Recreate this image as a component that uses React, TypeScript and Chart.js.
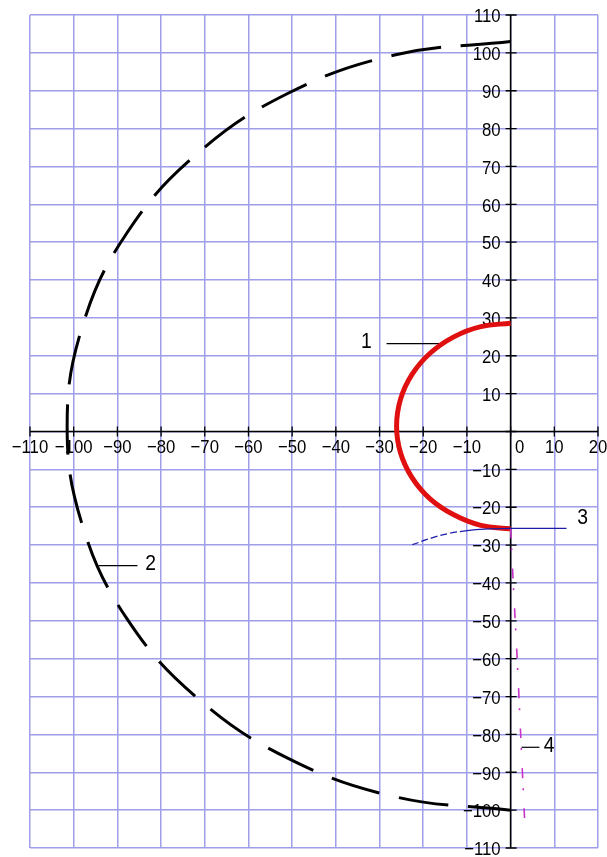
import { useEffect, useRef } from "react";
import { Chart, registerables } from "chart.js";

Chart.register(...registerables);

// Axis ranges and tick values
const xTickValues = [-110, -100, -90, -80, -70, -60, -50, -40, -30, -20, -10, 0, 10, 20];
const yTickValues = [110, 100, 90, 80, 70, 60, 50, 40, 30, 20, 10, 0, -10, -20, -30, -40, -50, -60, -70, -80, -90, -100, -110];

// Curve 1 – small red arc
const curve1 = [
  { x: 0, y: 28.6 }, { x: -6.8, y: 27.7 }, { x: -13.0, y: 25.0 }, { x: -18.5, y: 20.6 },
  { x: -22.6, y: 15.0 }, { x: -25.2, y: 8.5 }, { x: -26.1, y: 1.4 }, { x: -25.2, y: -5.6 },
  { x: -22.6, y: -12.1 }, { x: -18.5, y: -17.7 }, { x: -13.0, y: -22.0 }, { x: -6.8, y: -24.8 },
  { x: 0, y: -25.7 },
];

// Curve 2 – large dashed arc
const curve2 = [
  { x: 0, y: 103 }, { x: -26.3, y: 99.5 }, { x: -50.8, y: 89.4 }, { x: -71.8, y: 73.3 },
  { x: -87.9, y: 52.3 }, { x: -98.0, y: 27.8 }, { x: -101.5, y: 1.5 }, { x: -98.0, y: -24.8 },
  { x: -87.9, y: -49.3 }, { x: -71.8, y: -70.3 }, { x: -50.8, y: -86.4 }, { x: -26.3, y: -96.5 },
  { x: 0, y: -100 },
];

// Curve 3 – thin blue line
const curve3 = [
  { x: 12.8, y: -25.6 }, { x: 6, y: -25.6 }, { x: 0, y: -25.6 }, { x: -6, y: -25.8 },
  { x: -10, y: -26.2 }, { x: -14, y: -26.9 }, { x: -18, y: -28.1 }, { x: -22.5, y: -29.9 },
];

// Curve 4 – magenta dash-dot line
const curve4 = [
  { x: 0, y: -25.6 }, { x: 0.6, y: -40 }, { x: 1.5, y: -60 }, { x: 2.3, y: -80 },
  { x: 3.1, y: -100 }, { x: 3.3, y: -104.5 },
];

// Leader lines for the curve numbers
const leader1 = [{ x: -28.4, y: 23.2 }, { x: -15.5, y: 23.2 }];
const leader2 = [{ x: -94.3, y: -35.4 }, { x: -85.4, y: -35.4 }];
const leader4 = [{ x: 2.5, y: -83.4 }, { x: 6.6, y: -83.4 }];

// Curve number labels
const curveLabels = [
  { text: "1", x: -33.0, y: 23.7 },
  { text: "2", x: -82.4, y: -35.0 },
  { text: "3", x: 16.5, y: -22.7 },
  { text: "4", x: 8.8, y: -83.0 },
];

const GRID = "#9e9eea";
const TICK_FONT = "19px 'Liberation Sans', Arial, sans-serif";
const LABEL_FONT = "22px 'Liberation Sans', Arial, sans-serif";

function squeezedText(ctx: CanvasRenderingContext2D, text: string, x: number, y: number, sx = 0.88) {
  ctx.save();
  ctx.translate(x, y);
  ctx.scale(sx, 1);
  ctx.fillText(text, 0, 0);
  ctx.restore();
}

const axesPlugin = {
  id: "centerAxes",
  beforeDatasetsDraw(chart: any) {
    const { ctx, chartArea } = chart;
    const xs = chart.scales.x;
    const ys = chart.scales.y;
    const x0 = xs.getPixelForValue(0);
    const y0 = ys.getPixelForValue(0);
    ctx.save();
    ctx.strokeStyle = "#000";
    ctx.lineWidth = 1.6;
    // axis lines
    ctx.beginPath();
    ctx.moveTo(chartArea.left, y0);
    ctx.lineTo(chartArea.right, y0);
    ctx.moveTo(x0, chartArea.top);
    ctx.lineTo(x0, chartArea.bottom);
    ctx.stroke();
    // tick marks
    ctx.lineWidth = 1.3;
    ctx.beginPath();
    for (const v of xTickValues) {
      const px = xs.getPixelForValue(v);
      ctx.moveTo(px, y0 - 5);
      ctx.lineTo(px, y0 + 5);
    }
    for (const v of yTickValues) {
      const py = ys.getPixelForValue(v);
      ctx.moveTo(x0 - 5, py);
      ctx.lineTo(x0 + 6, py);
    }
    ctx.stroke();
    // tick labels
    ctx.fillStyle = "#000";
    ctx.font = TICK_FONT;
    ctx.textBaseline = "middle";
    ctx.textAlign = "center";
    for (const v of xTickValues) {
      const px = xs.getPixelForValue(v) + (v === 0 ? 9 : 0);
      squeezedText(ctx, String(v).replace("-", "\u2212"), px, y0 + 16);
    }
    ctx.textAlign = "right";
    for (const v of yTickValues) {
      if (v === 0) continue;
      const py = ys.getPixelForValue(v);
      squeezedText(ctx, String(v).replace("-", "\u2212"), x0 - 10, py + 2);
    }
    ctx.restore();
  },
  afterDatasetsDraw(chart: any) {
    const { ctx } = chart;
    const xs = chart.scales.x;
    const ys = chart.scales.y;
    ctx.save();
    ctx.fillStyle = "#000";
    ctx.font = LABEL_FONT;
    ctx.textAlign = "center";
    ctx.textBaseline = "middle";
    for (const l of curveLabels) {
      squeezedText(ctx, l.text, xs.getPixelForValue(l.x), ys.getPixelForValue(l.y));
    }
    ctx.restore();
  },
};

export default function App() {
  const canvasRef = useRef<HTMLCanvasElement | null>(null);

  useEffect(() => {
    document.body.style.margin = "0";
    const canvas = canvasRef.current;
    if (!canvas) return;
    const leaderStyle = {
      showLine: true,
      borderColor: "#000",
      borderWidth: 1.2,
      pointRadius: 0,
      tension: 0,
    };
    const chart = new Chart(canvas, {
      type: "scatter",
      data: {
        datasets: [
          {
            label: "2",
            data: curve2,
            showLine: true,
            borderColor: "#000",
            borderWidth: 3,
            borderDash: [50, 20],
            pointRadius: 0,
            tension: 0.4,
          },
          {
            label: "3",
            data: curve3,
            showLine: true,
            borderColor: "#1c1ca8",
            borderWidth: 1.3,
            pointRadius: 0,
            tension: 0.4,
            segment: {
              borderDash: (c: any) => (c.p0.parsed.x < -9 ? [7, 3] : undefined),
            },
          },
          {
            label: "4",
            data: curve4,
            showLine: true,
            borderColor: "#c832c8",
            borderWidth: 1.6,
            borderDash: [10, 10, 2, 18],
            pointRadius: 0,
            tension: 0.3,
          },
          {
            label: "1",
            data: curve1,
            showLine: true,
            borderColor: "#e01010",
            borderWidth: 5,
            pointRadius: 0,
            tension: 0.4,
          },
          { label: "l1", data: leader1, ...leaderStyle },
          { label: "l2", data: leader2, ...leaderStyle },
          { label: "l4", data: leader4, ...leaderStyle },
        ],
      },
      options: {
        animation: false,
        responsive: false,
        maintainAspectRatio: false,
        layout: { padding: { left: 30, top: 15, right: 9, bottom: 9 } },
        plugins: {
          legend: { display: false },
          tooltip: { enabled: false },
        },
        scales: {
          x: {
            type: "linear",
            min: -110,
            max: 20,
            ticks: { display: false, stepSize: 10 },
            grid: { color: GRID, lineWidth: 1.5, drawTicks: false },
            border: { display: false },
          },
          y: {
            type: "linear",
            min: -110,
            max: 110,
            ticks: { display: false, stepSize: 10 },
            grid: { color: GRID, lineWidth: 1.5, drawTicks: false },
            border: { display: false },
          },
        },
      },
      plugins: [axesPlugin],
    });
    return () => chart.destroy();
  }, []);

  return (
    <div style={{ width: 607, height: 857, background: "#fff" }}>
      <canvas ref={canvasRef} width={607} height={857} style={{ display: "block" }} />
    </div>
  );
}
